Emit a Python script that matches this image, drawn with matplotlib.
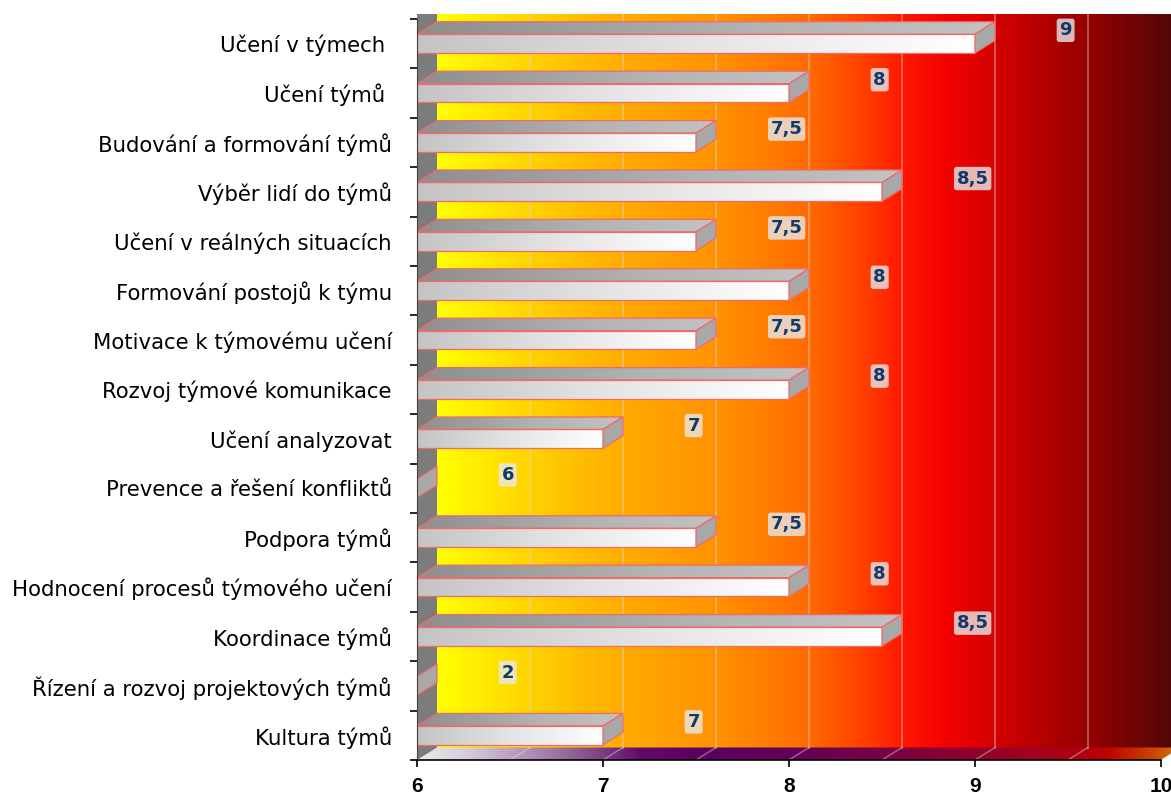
import numpy as np
import matplotlib
matplotlib.use("Agg")
import matplotlib.pyplot as plt
from matplotlib.patches import Polygon
from matplotlib.colors import LinearSegmentedColormap

# data, listed top to bottom as shown
categories = ["Učení v týmech ", "Učení týmů ", "Budování a formování týmů",
              "Výběr lidí do týmů", "Učení v reálných situacích",
              "Formování postojů k týmu", "Motivace k týmovému učení",
              "Rozvoj týmové komunikace", "Učení analyzovat",
              "Prevence a řešení konfliktů", "Podpora týmů",
              "Hodnocení procesů týmového učení", "Koordinace týmů",
              "Řízení a rozvoj projektových týmů", "Kultura týmů"]
values = [9, 8, 7.5, 8.5, 7.5, 8, 7.5, 8, 7, 6, 7.5, 8, 8.5, 2, 7]
x_ticks = [6, 7, 8, 9, 10]

XMIN, XMAX = 6, 10
DX, DY = 0.1075, 0.253      # 3d depth offset (x units, rows)
H = 0.19                    # half height of bar front face
YTOP = 14.6
XRIGHT = 10.054

wall_stops = [(6.1075, "#ffff00"), (6.607, "#ffd200"), (7.107, "#ffab00"),
              (7.607, "#ff9200"), (8.107, "#ff6a00"), (8.43, "#ff3a00"),
              (8.607, "#ff1800"), (8.86, "#f20000"), (9.107, "#d40000"),
              (9.607, "#960000"), (10.054, "#520808")]
floor_stops = [(6.0, "#ececec"), (6.28, "#d4cad8"), (6.56, "#b496bc"),
               (6.88, "#8a5a92"), (7.2, "#620a6a"), (7.52, "#5c0060"),
               (8.06, "#640058"), (8.6, "#7e0040"), (9.13, "#980028"),
               (9.56, "#b00010"), (9.72, "#c00000"), (9.94, "#c84000"),
               (10.1075, "#d07010")]


def grad_poly(ax, verts, stops, x0, x1, z):
    lo, hi = stops[0][0], stops[-1][0]
    cmap = LinearSegmentedColormap.from_list(
        "g", [((p - lo) / (hi - lo), c) for p, c in stops])
    ys = [v[1] for v in verts]
    im = ax.imshow(np.linspace(0, 1, 256).reshape(1, -1), cmap=cmap,
                   extent=[x0, x1, min(ys), max(ys)], aspect="auto",
                   interpolation="bilinear", zorder=z)
    clip = Polygon(verts, closed=True, transform=ax.transData)
    im.set_clip_path(clip)
    return im


fig = plt.figure(figsize=(11.71, 7.96), dpi=100)
ax = fig.add_axes([417 / 1171, 36 / 796, (1171 - 417) / 1171, (760 - 14) / 796])

# back wall
wall = [(XMIN + DX, -0.5 + DY), (XRIGHT, -0.5 + DY), (XRIGHT, YTOP), (XMIN + DX, YTOP)]
grad_poly(ax, wall, wall_stops, XMIN + DX, XRIGHT, 0)

# floor
floor = [(XMIN, -0.5), (XMAX, -0.5), (XMAX + DX, -0.5 + DY), (XMIN + DX, -0.5 + DY)]
grad_poly(ax, floor, floor_stops, XMIN, XMAX + DX, 0.5)

# left side wall
ax.add_patch(Polygon([(XMIN, -0.5), (XMIN + DX, -0.5 + DY), (XMIN + DX, YTOP),
                      (XMIN, YTOP)], closed=True, fc="#7c7c7c", ec="none", zorder=0.6))

# gridlines on wall and floor
for g in np.arange(6.5, 10.01, 0.5):
    ax.plot([g + DX, g + DX], [-0.5 + DY, YTOP], color="#dcdcdc", alpha=0.45, lw=1.2, zorder=1)
    ax.plot([g, g + DX], [-0.5, -0.5 + DY], color="#dcdcdc", alpha=0.45, lw=1.0, zorder=1)

n = len(categories)
edge = "#f06a6a"
for i, (cat, v) in enumerate(zip(categories, values)):
    y = n - 1 - i
    end = min(max(v, XMIN), XMAX)
    front = [(XMIN, y - H), (end, y - H), (end, y + H), (XMIN, y + H)]
    top = [(XMIN, y + H), (end, y + H), (end + DX, y + H + DY), (XMIN + DX, y + H + DY)]
    side = [(end, y - H), (end + DX, y - H + DY), (end + DX, y + H + DY), (end, y + H)]
    if end > XMIN:
        grad_poly(ax, top, [(0, "#8e8e8e"), (0.6, "#b4b4b4"), (1, "#c2c2c2")], XMIN, end + DX, 2)
        ax.add_patch(Polygon(top, closed=True, fill=False, ec=edge, lw=0.9, zorder=2.2))
        grad_poly(ax, front, [(0, "#c4c4c4"), (0.5, "#e4e4e4"), (1, "#ffffff")], XMIN, end, 2)
        ax.add_patch(Polygon(front, closed=True, fill=False, ec=edge, lw=0.9, zorder=2.2))
    ax.add_patch(Polygon(side, closed=True, fc="#a8a8a8", ec=edge, lw=0.9, zorder=2.3))

    lab = f"{v:g}".replace(".", ",")
    ax.text(end + DX + 0.38, y + 0.27, lab, ha="center", va="center",
            fontsize=13, fontweight="bold", color="#0f3a6a", family="DejaVu Sans",
            bbox=dict(boxstyle="round,pad=0.15", fc="#e8e8e8", ec="none", alpha=0.8),
            zorder=5)

ax.set_xlim(XMIN, XRIGHT)
ax.set_ylim(-0.5, YTOP)

ax.set_xticks(x_ticks)
ax.set_xticklabels([str(t) for t in x_ticks], fontsize=15, fontweight="bold",
                   family="Liberation Sans")
ax.set_yticks(range(n))
ax.set_yticklabels(categories[::-1], fontsize=15.3, family="DejaVu Sans")
ax.set_yticks(np.arange(-0.5, n, 1), minor=True)
ax.tick_params(axis="y", which="major", length=0, pad=18)
ax.tick_params(axis="y", which="minor", length=5, width=1.2, direction="out")
ax.tick_params(axis="x", which="major", length=5, width=1.2, direction="out", pad=7)

for s in ["top", "right"]:
    ax.spines[s].set_visible(False)
ax.spines["bottom"].set_bounds(XMIN, XMAX)
ax.spines["bottom"].set_linewidth(1.2)
ax.spines["left"].set_bounds(-0.5, n - 0.5)
ax.spines["left"].set_color("#404040")

fig.savefig("out.png", dpi=100)
